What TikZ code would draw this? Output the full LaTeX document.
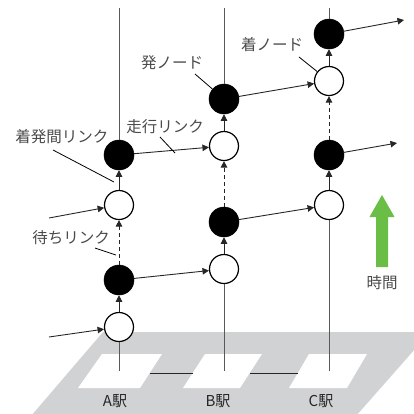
\documentclass[tikz,border=0pt]{standalone}
\usepackage{fontspec}
\setmainfont{Noto Sans CJK JP}
\usetikzlibrary{arrows.meta}
\definecolor{platgray}{HTML}{D1D2D4}
\definecolor{timegreen}{HTML}{6ABD45}
\definecolor{labgray}{HTML}{4A4A4A}
\tikzset{
  wn/.style={circle, draw=black, line width=1.2bp, fill=white, minimum size=29bp, inner sep=0pt},
  bn/.style={circle, draw=black, fill=black, line width=0.5bp, minimum size=30bp, inner sep=0pt},
  tip/.style={-{Triangle[length=6.5bp,width=6.5bp]}},
  link/.style={line width=0.9bp, draw=black!85},
  stline/.style={line width=0.9bp, draw=black!65},
  waitlink/.style={line width=0.9bp, draw=black!85, dash pattern=on 4bp off 3bp},
  ptr/.style={line width=0.8bp, draw=black},
  lab/.style={text=labgray, font=\fontsize{15.5bp}{16bp}\selectfont, inner sep=0pt},
  stlab/.style={text=black!85, font=\fontsize{15bp}{16bp}\selectfont, inner sep=0pt},
}
\begin{document}
\begin{tikzpicture}[x=1bp,y=-1bp]
\useasboundingbox (0,0) rectangle (414,414);
\begin{scope}
\clip (0,0) rectangle (414,414);
% ground
\fill[platgray] (103,332) -- (430,332) -- (356,416) -- (31,416) -- cycle;
\fill[white] (102,354) -- (162,354) -- (140,388) -- (78,388) -- cycle;
\fill[white] (205,354) -- (262,354) -- (240,388) -- (183,388) -- cycle;
\fill[white] (309,354) -- (367,354) -- (347,388) -- (289,388) -- cycle;
\end{scope}
% coordinates
\coordinate (ta) at (119,8);
\coordinate (tb) at (224,8);
\coordinate (tc) at (329,8);
\coordinate (pa) at (119,371);
\coordinate (pb) at (224,371);
\coordinate (pc) at (329,371);
\coordinate (abl) at (150,373);
\coordinate (abr) at (193,373);
\coordinate (bcl) at (250,373);
\coordinate (bcr) at (298,373);
\coordinate (ia1) at (49,337);
\coordinate (ia3) at (49,218);
\coordinate (oc2) at (397,143);
\coordinate (oc4) at (404,20);
% nodes
\node[wn] (a1) at (119,327) {};
\node[bn] (a2) at (119,280) {};
\node[wn] (a3) at (119,205) {};
\node[bn] (a4) at (119,155) {};
\node[wn] (b1) at (224,269) {};
\node[bn] (b2) at (224,222) {};
\node[wn] (b3) at (224,146) {};
\node[bn] (b4) at (224,99) {};
\node[wn] (c1) at (329,205) {};
\node[bn] (c2) at (329,155) {};
\node[wn] (c3) at (329,81) {};
\node[bn] (c4) at (329,34) {};
% station lines
\draw[stline] (pa) -- (a1);
\draw[stline] (pb) -- (b1);
\draw[stline] (pc) -- (c1);
\draw[stline] (a4) -- (ta);
\draw[stline] (b4) -- (tb);
\draw[stline] (c4) -- (tc);
\draw[link] (abl) -- (abr);
\draw[link] (bcl) -- (bcr);
% vertical links
\draw[link,tip] (a1) -- (a2);
\draw[waitlink,tip] (a2) -- (a3);
\draw[link,tip] (a3) -- (a4);
\draw[link,tip] (b1) -- (b2);
\draw[waitlink,tip] (b2) -- (b3);
\draw[link,tip] (b3) -- (b4);
\draw[link,tip] (c1) -- (c2);
\draw[waitlink,tip] (c2) -- (c3);
\draw[link,tip] (c3) -- (c4);
% running links
\draw[link,tip] (ia1) -- (a1);
\draw[link,tip] (ia3) -- (a3);
\draw[link,tip] (a2) -- (b1);
\draw[link,tip] (a4) -- (b3);
\draw[link,tip] (b2) -- (c1);
\draw[link,tip] (b4) -- (c3);
\draw[link,tip] (c2) -- (oc2);
\draw[link,tip] (c4) -- (oc4);
% labels
\node[lab] (l1) at (172,63) {発ノード};
\node[lab] (l2) at (272,45) {着ノード};
\node[lab] (l3) at (165,127) {走行リンク};
\node[lab] (l4) at (62,137) {着発間リンク};
\node[lab] (l5) at (71,238) {待ちリンク};
\coordinate (q1) at (195,74);
\coordinate (q2) at (299,57);
\coordinate (q3a) at (160,137);
\coordinate (q3b) at (175,153);
\coordinate (q4a) at (53,150);
\coordinate (q4b) at (114,182);
\coordinate (q5a) at (95,248);
\coordinate (q5b) at (116,255);
\draw[ptr] (q1) -- (b4);
\draw[ptr] (q2) -- (c3);
\draw[ptr] (q3a) -- (q3b);
\draw[ptr] (q4a) -- (q4b);
\draw[ptr] (q5a) -- (q5b);
% station labels
\node[stlab] (sa) at (115,401) {A駅};
\node[stlab] (sb) at (218,401) {B駅};
\node[stlab] (sc) at (321,401) {C駅};
% time arrow
\fill[timegreen] (376,267) -- (388,267) -- (388,217) -- (394.5,217) -- (382,195) -- (369.5,217) -- (376,217) -- cycle;
\node[lab] (tm) at (382,283) {時間};
\end{tikzpicture}
\end{document}
